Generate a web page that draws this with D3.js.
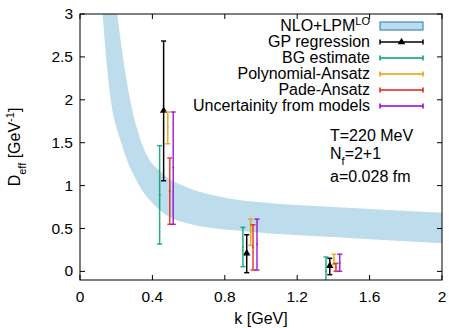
<!DOCTYPE html>
<meta charset="utf-8">
<style>
  body { margin: 0; background: #fff; }
  text { font-family: "Liberation Sans", Arial, sans-serif; font-size: 16px; fill: #000; }
  text.tick { font-size: 15.5px; }
</style>
<svg width="449" height="328"></svg>
<script src="https://cdn.jsdelivr.net/npm/d3@7"></script>
<script>

// band NLO+LPM^LO (k, D)
var bandUpper = [[0.195, 3.2], [0.206, 3], [0.258, 2.22], [0.35, 1.446], [0.46, 1.135], [0.59, 0.98],
                 [0.8, 0.86], [1.0, 0.805], [1.4, 0.75], [2.0, 0.684]];
var bandLower = [[0.118, 3.2], [0.125, 3], [0.157, 2.22], [0.236, 1.446], [0.313, 1.057], [0.424, 0.747],
                 [0.608, 0.552], [0.94, 0.463], [1.4, 0.40], [2.0, 0.327]];

// error bar series: k, central value, low, high
var gpK = [0.462, 0.921, 1.38], gpY = [1.873, 0.211, 0.066], gpLo = [1.057, -0.015, -0.038], gpHi = [2.685, 0.428, 0.153];
var bgK = [0.44, 0.90, 1.359], bgY = [0.89, 0.285, 0.0], bgLo = [0.319, 0.055, -0.17], bgHi = [1.465, 0.514, 0.168];
var polyK = [0.485, 0.943, 1.403], polyY = [1.675, 0.457, 0.14], polyLo = [1.488, 0.303, 0.083], polyHi = [1.858, 0.61, 0.2];
var padeK = [0.496, 0.956, 1.414], padeY = [0.937, 0.28, 0.05], padeLo = [0.549, 0.016, 0.001], padeHi = [1.322, 0.544, 0.094];
var uncK = [0.515, 0.978, 1.435], uncY = [1.21, 0.316, 0.1], uncLo = [0.549, 0.016, 0.001], uncHi = [1.858, 0.61, 0.2];

var xTicks = [0, 0.4, 0.8, 1.2, 1.6, 2];
var yTicks = [0, 0.5, 1, 1.5, 2, 2.5, 3];

var series = [
  {name: "GP regression", color: "#000000", k: gpK, y: gpY, lo: gpLo, hi: gpHi, tri: true},
  {name: "BG estimate", color: "#009e73", k: bgK, y: bgY, lo: bgLo, hi: bgHi},
  {name: "Polynomial-Ansatz", color: "#e69f00", k: polyK, y: polyY, lo: polyLo, hi: polyHi},
  {name: "Pade-Ansatz", color: "#e51e10", k: padeK, y: padeY, lo: padeLo, hi: padeHi},
  {name: "Uncertainity from models", color: "#9400d3", k: uncK, y: uncY, lo: uncLo, hi: uncHi}
];

var L = 80, R = 442, T = 14, B = 280;
var svg = d3.select("svg");
var x = d3.scaleLinear().domain([0, 2]).range([L, R]);
var y = d3.scaleLinear().domain([-0.1, 3]).range([B, T]);

svg.append("clipPath").attr("id", "clip")
  .append("rect").attr("x", L).attr("y", T).attr("width", R - L).attr("height", B - T);

var plot = svg.append("g").attr("clip-path", "url(#clip)");

// band as a closed polygon: upper curve then lower curve reversed
var line = d3.line().x(function(d){ return x(d[0]); }).y(function(d){ return y(d[1]); }).curve(d3.curveMonotoneX);
var up = line(bandUpper);
var lowRev = line(bandLower.slice().reverse());
plot.append("path")
  .attr("d", up + "L" + lowRev.slice(1) + "Z")
  .attr("fill", "#bddcec");

// error bars
series.forEach(function(s){
  var g = plot.append("g").attr("stroke", s.color).attr("stroke-width", 1.5).attr("fill", "none")
    .attr("opacity", s.tri ? 1 : 0.85);
  s.k.forEach(function(k, i){
    var cx = x(k);
    g.append("line").attr("x1", cx).attr("x2", cx).attr("y1", y(s.lo[i])).attr("y2", y(s.hi[i]));
    g.append("line").attr("x1", cx - 2.5).attr("x2", cx + 2.5).attr("y1", y(s.lo[i])).attr("y2", y(s.lo[i]));
    g.append("line").attr("x1", cx - 2.5).attr("x2", cx + 2.5).attr("y1", y(s.hi[i])).attr("y2", y(s.hi[i]));
    if (s.tri) {
      plot.append("path").attr("d", d3.symbol(d3.symbolTriangle, 24)())
        .attr("transform", "translate(" + cx + "," + y(s.y[i]) + ")").attr("fill", "#000");
    } else {
      g.append("line").attr("x1", cx - 1).attr("x2", cx + 1).attr("y1", y(s.y[i])).attr("y2", y(s.y[i]));
    }
  });
});

// frame and inward ticks on all sides (gnuplot style)
svg.append("rect").attr("x", L).attr("y", T).attr("width", R - L).attr("height", B - T)
  .attr("fill", "none").attr("stroke", "#000").attr("stroke-width", 1);

var tk = svg.append("g").attr("stroke", "#000").attr("stroke-width", 1);
xTicks.forEach(function(t){
  tk.append("line").attr("x1", x(t)).attr("x2", x(t)).attr("y1", B).attr("y2", B - 5);
  tk.append("line").attr("x1", x(t)).attr("x2", x(t)).attr("y1", T).attr("y2", T + 5);
  svg.append("text").attr("class", "tick").attr("x", x(t)).attr("y", 302).attr("text-anchor", "middle").text(d3.format("")(t));
});
yTicks.forEach(function(t){
  tk.append("line").attr("x1", L).attr("x2", L + 5).attr("y1", y(t)).attr("y2", y(t));
  tk.append("line").attr("x1", R).attr("x2", R - 5).attr("y1", y(t)).attr("y2", y(t));
  svg.append("text").attr("class", "tick").attr("x", 73).attr("y", y(t) + 5).attr("text-anchor", "end").text(d3.format("")(t));
});

// axis labels
svg.append("text").attr("x", (L + R) / 2).attr("y", 324).attr("text-anchor", "middle").text("k [GeV]");
var yl = svg.append("text").attr("transform", "translate(20," + ((T + B) / 2) + ") rotate(-90)")
  .attr("text-anchor", "middle");
yl.append("tspan").text("D");
yl.append("tspan").attr("baseline-shift", "sub").attr("font-size", "11px").text("eff");
yl.append("tspan").text(" [GeV");
yl.append("tspan").attr("baseline-shift", "super").attr("font-size", "11px").text("-1");
yl.append("tspan").text("]");

// legend
var legX = 370, s0 = 380, s1 = 423, rowY = [26, 42, 58, 74, 90, 106];
var lt = svg.append("text").attr("x", legX).attr("y", rowY[0] + 5).attr("text-anchor", "end");
lt.append("tspan").text("NLO+LPM");
lt.append("tspan").attr("baseline-shift", "super").attr("font-size", "11px").text("LO");
svg.append("rect").attr("x", s0).attr("y", rowY[0] - 4).attr("width", s1 - s0).attr("height", 8)
  .attr("fill", "#bddcec").attr("stroke", "#1f78b4").attr("stroke-width", 1);

series.forEach(function(s, i){
  var yy = rowY[i + 1];
  svg.append("text").attr("x", legX).attr("y", yy + 5).attr("text-anchor", "end").text(s.name);
  var g = svg.append("g").attr("stroke", s.color).attr("stroke-width", 1.5);
  g.append("line").attr("x1", s0).attr("x2", s1).attr("y1", yy).attr("y2", yy);
  g.append("line").attr("x1", s0).attr("x2", s0).attr("y1", yy - 2.5).attr("y2", yy + 2.5);
  g.append("line").attr("x1", s1).attr("x2", s1).attr("y1", yy - 2.5).attr("y2", yy + 2.5);
  if (s.tri) {
    svg.append("path").attr("d", d3.symbol(d3.symbolTriangle, 24)())
      .attr("transform", "translate(" + ((s0 + s1) / 2) + "," + yy + ")").attr("fill", "#000");
  }
});

// annotations
var ann = svg.append("g");
ann.append("text").attr("x", 330).attr("y", 141).text("T=220 MeV");
var nf = ann.append("text").attr("x", 330).attr("y", 159);
nf.append("tspan").text("N");
nf.append("tspan").attr("baseline-shift", "sub").attr("font-size", "11px").text("f");
nf.append("tspan").text("=2+1");
ann.append("text").attr("x", 330).attr("y", 182).text("a=0.028 fm");
</script>
